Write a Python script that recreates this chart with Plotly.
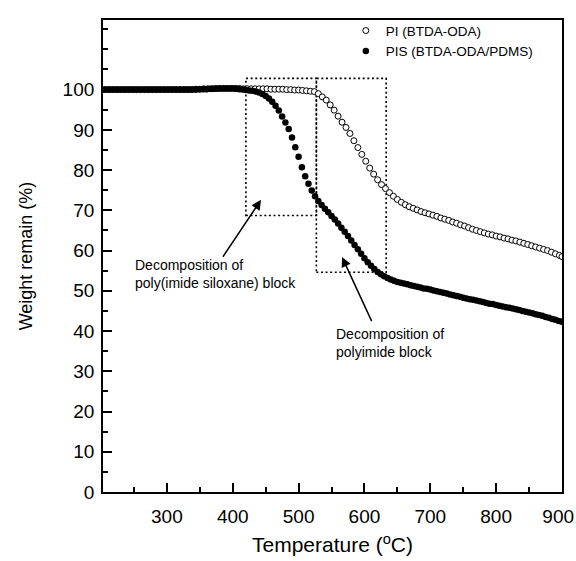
import plotly.graph_objects as go

# ---------------- data ----------------
# PI (BTDA-ODA): open circles, ~6 degC sampling
pi_temp = [200, 206, 212, 218, 224, 230, 236, 242, 248, 254, 260, 266, 272, 278, 284, 290,
           296, 302, 308, 314, 320, 326, 332, 338, 344, 350, 356, 362, 368, 374, 380, 386,
           392, 398, 404, 410, 416, 422, 428, 434, 440, 446, 452, 458, 464, 470, 476, 482,
           488, 494, 500, 506, 512, 518, 524, 530, 536, 542, 548, 554, 560, 566, 572, 578,
           584, 590, 596, 602, 608, 614, 620, 626, 632, 638, 644, 650, 656, 662, 668, 674,
           680, 686, 692, 698, 704, 710, 716, 722, 728, 734, 740, 746, 752, 758, 764, 770,
           776, 782, 788, 794, 800, 806, 812, 818, 824, 830, 836, 842, 848, 854, 860, 866,
           872, 878, 884, 890, 896, 900]
pi_weight = [100.0, 100.0, 100.0, 100.0, 100.0, 100.0, 100.0, 100.0, 100.0, 100.0, 100.0, 100.0,
             100.0, 100.0, 100.0, 100.0, 100.0, 100.0, 100.0, 100.0, 100.0, 100.0, 100.0, 100.0,
             100.1, 100.1, 100.2, 100.2, 100.2, 100.3, 100.3, 100.3, 100.3, 100.3, 100.3, 100.3,
             100.2, 100.2, 100.2, 100.2, 100.2, 100.2, 100.2, 100.1, 100.1, 100.1, 100.1, 100.0,
             100.0, 99.9, 99.9, 99.8, 99.7, 99.6, 99.5, 99.0, 98.2, 97.4, 96.2, 94.9,
             93.4, 91.9, 90.6, 89.1, 87.3, 85.6, 83.9, 82.2, 80.5, 79.0, 77.6, 76.4,
             75.4, 74.4, 73.5, 72.7, 72.0, 71.4, 70.9, 70.5, 70.1, 69.7, 69.4, 69.1,
             68.8, 68.5, 68.1, 67.8, 67.5, 67.1, 66.8, 66.4, 66.1, 65.7, 65.3, 65.0,
             64.7, 64.4, 64.1, 63.9, 63.6, 63.4, 63.1, 62.9, 62.6, 62.4, 62.1, 61.8,
             61.5, 61.2, 60.9, 60.6, 60.3, 60.0, 59.6, 59.2, 58.8, 58.5]

# PIS (BTDA-ODA/PDMS): filled circles, ~5 degC sampling
pis_temp = [200, 205, 210, 215, 220, 225, 230, 235, 240, 245, 250, 255, 260, 265, 270, 275,
            280, 285, 290, 295, 300, 305, 310, 315, 320, 325, 330, 335, 340, 345, 350, 355,
            360, 365, 370, 375, 380, 385, 390, 395, 400, 405, 410, 415, 420, 425, 430, 435,
            440, 445, 450, 455, 460, 465, 470, 475, 480, 485, 490, 495, 500, 505, 510, 515,
            520, 525, 530, 535, 540, 545, 550, 555, 560, 565, 570, 575, 580, 585, 590, 595,
            600, 605, 610, 615, 620, 625, 630, 635, 640, 645, 650, 655, 660, 665, 670, 675,
            680, 685, 690, 695, 700, 705, 710, 715, 720, 725, 730, 735, 740, 745, 750, 755,
            760, 765, 770, 775, 780, 785, 790, 795, 800, 805, 810, 815, 820, 825, 830, 835,
            840, 845, 850, 855, 860, 865, 870, 875, 880, 885, 890, 895, 900]
pis_weight = [100.0, 100.0, 100.0, 100.0, 100.0, 100.0, 100.0, 100.0, 100.0, 100.0, 100.0, 100.0,
              100.0, 100.0, 100.0, 100.0, 100.0, 100.0, 100.0, 100.0, 100.0, 100.0, 100.0, 100.0,
              100.0, 100.0, 100.0, 100.0, 100.0, 100.0, 100.1, 100.1, 100.1, 100.2, 100.2, 100.2,
              100.3, 100.3, 100.3, 100.3, 100.3, 100.2, 100.1, 100.0, 99.9, 99.8, 99.7, 99.5,
              99.3, 98.9, 98.4, 97.8, 97.0, 96.0, 94.8, 93.3, 91.8, 90.2, 88.1, 85.7,
              83.3, 80.7, 78.5, 76.6, 74.9, 73.5, 72.3, 71.3, 70.4, 69.5, 68.6, 67.7,
              66.7, 65.7, 64.7, 63.6, 62.5, 61.4, 60.3, 59.2, 58.1, 57.1, 56.2, 55.4,
              54.7, 54.1, 53.6, 53.2, 52.8, 52.5, 52.2, 52.0, 51.8, 51.6, 51.4, 51.2,
              51.0, 50.8, 50.6, 50.5, 50.3, 50.1, 49.9, 49.7, 49.5, 49.3, 49.1, 48.9,
              48.7, 48.5, 48.3, 48.1, 47.9, 47.8, 47.6, 47.4, 47.2, 47.0, 46.8, 46.7,
              46.5, 46.3, 46.1, 45.9, 45.8, 45.6, 45.4, 45.2, 45.0, 44.8, 44.6, 44.4,
              44.2, 44.0, 43.8, 43.5, 43.3, 43.0, 42.8, 42.5, 42.3]

x_ticks = [300, 400, 500, 600, 700, 800, 900]
x_tick_text = ["300", "400", "500", "600", "700", "800", "900&#8201;&#8201;"]
y_ticks = [0, 10, 20, 30, 40, 50, 60, 70, 80, 90, 100]

# highlighted regions (dotted boxes): x0, x1, y0, y1
box_siloxane = (420, 527, 68.7, 102.8)
box_imide = (527, 633, 54.6, 102.8)

FONT = "Liberation Sans, Arial, Helvetica, sans-serif"

fig = go.Figure()
fig.add_trace(go.Scatter(
    x=pi_temp, y=pi_weight, mode="markers", name="PI (BTDA-ODA)",
    marker=dict(symbol="circle", size=6, color="white",
                line=dict(color="black", width=1)),
))
fig.add_trace(go.Scatter(
    x=pis_temp, y=pis_weight, mode="markers", name="PIS (BTDA-ODA/PDMS)",
    marker=dict(symbol="circle", size=6.5, color="black",
                line=dict(color="black", width=0)),
))

for (x0, x1, y0, y1) in (box_siloxane, box_imide):
    fig.add_shape(type="rect", xref="x", yref="y", x0=x0, x1=x1, y0=y0, y1=y1,
                  line=dict(color="black", width=1.6, dash="2px,2.6px"),
                  fillcolor="rgba(0,0,0,0)", layer="below")

# annotations with arrows
fig.add_annotation(x=443, y=72.6, xref="x", yref="y",
                   ax=383.6, ay=58.1, axref="x", ayref="y",
                   text="", showarrow=True, arrowhead=2, arrowsize=1.3,
                   arrowwidth=1.5, arrowcolor="black")
fig.add_annotation(x=566, y=58.4, xref="x", yref="y",
                   ax=612, ay=42.1, axref="x", ayref="y",
                   text="", showarrow=True, arrowhead=2, arrowsize=1.3,
                   arrowwidth=1.5, arrowcolor="black")
fig.add_annotation(x=248, y=54.2, xref="x", yref="y", xanchor="left", yanchor="middle",
                   text="Decomposition of<br>poly(imide siloxane) block", showarrow=False,
                   align="left", font=dict(family=FONT, size=14, color="black"))
fig.add_annotation(x=554, y=37.0, xref="x", yref="y", xanchor="left", yanchor="middle",
                   text="Decomposition of<br>polyimide block", showarrow=False,
                   align="left", font=dict(family=FONT, size=14, color="black"))

fig.update_layout(
    width=576, height=561,
    margin=dict(l=103, r=14, t=20, b=69),
    paper_bgcolor="white", plot_bgcolor="white",
    font=dict(family=FONT, color="black"),
    showlegend=True,
    legend=dict(x=0.529, y=1.01, xanchor="left", yanchor="top",
                bgcolor="rgba(0,0,0,0)", borderwidth=0,
                font=dict(family=FONT, size=13.5, color="black"),
                itemwidth=30, tracegroupgap=0),
    xaxis=dict(range=[203, 900], tickmode="array", tickvals=x_ticks,
               ticktext=x_tick_text, automargin=False,
               ticks="inside", ticklen=9, tickwidth=1.5, tickcolor="black",
               minor=dict(dtick=50, tick0=0, ticks="inside", ticklen=5,
                          tickwidth=1.5, tickcolor="black"),
               showline=True, linecolor="black", linewidth=1.8, mirror=True,
               showgrid=False, zeroline=False,
               tickfont=dict(family=FONT, size=19, color="black"),
               ticklabelstandoff=6, ticklabeloverflow="allow",
               title=dict(text="Temperature (<sup>o</sup>C)",
                          font=dict(family=FONT, size=21, color="black"),
                          standoff=12)),
    yaxis=dict(range=[0, 117.3], tickmode="array", tickvals=y_ticks,
               ticktext=[str(v) for v in y_ticks], automargin=False,
               ticks="inside", ticklen=9, tickwidth=1.5, tickcolor="black",
               minor=dict(dtick=5, tick0=0, ticks="inside", ticklen=5,
                          tickwidth=1.5, tickcolor="black"),
               showline=True, linecolor="black", linewidth=1.8, mirror=True,
               showgrid=False, zeroline=False,
               tickfont=dict(family=FONT, size=19, color="black"),
               ticklabelstandoff=3,
               title=dict(text="Weight remain (%)",
                          font=dict(family=FONT, size=18, color="black"),
                          standoff=25)),
)

# remove the default page margin so the 576x561 figure fills the window exactly
fig.write_html("out.html", config={"displayModeBar": False},
               post_script="document.body.style.margin='0';document.body.style.overflow='hidden';")
